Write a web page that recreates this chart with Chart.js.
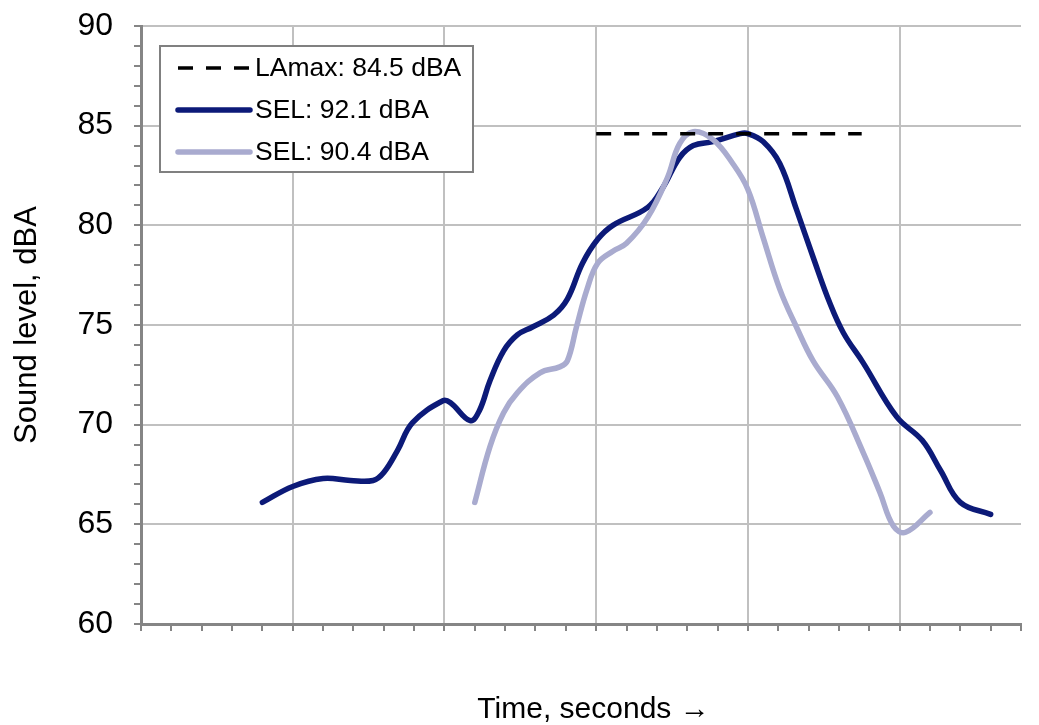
<!DOCTYPE html>
<html>
<head>
<meta charset="utf-8">
<script src="https://cdn.jsdelivr.net/npm/chart.js@4/dist/chart.umd.min.js"></script>
<style>
  html, body { margin: 0; padding: 0; background: #ffffff; }
  #wrap { width: 1039px; height: 725px; position: relative; }
</style>
</head>
<body>
<div id="wrap"><canvas id="soundChart"></canvas></div>
<script>
// Sound level vs time - two pass-bys with LAmax reference line

const lamaxTime = [15, 23.75];
const lamaxLevel = [84.6, 84.6];

const selHighTime = [4.0, 5.0, 6.0, 6.9, 7.65, 8.0, 8.45, 8.95, 9.95, 10.2, 10.85, 11.15, 11.5, 11.95,
  12.4, 12.9, 13.6, 14.05, 14.55, 15.05, 15.55, 16.7, 17.2, 17.75, 18.2, 18.85, 19.75, 20.0,
  20.5, 21.05, 21.6, 22.15, 22.7, 23.15, 23.8, 24.9, 25.75, 26.35, 27.0, 28.0];
const selHighLevel = [66.1, 66.9, 67.3, 67.2, 67.2, 67.6, 68.7, 70.1, 71.2, 71.1, 70.2, 70.7, 72.2, 73.7,
  74.5, 74.9, 75.5, 76.3, 78.1, 79.3, 80.0, 80.9, 81.9, 83.4, 84.0, 84.2, 84.6, 84.6,
  84.2, 83.1, 80.8, 78.4, 76.1, 74.6, 73.1, 70.4, 69.2, 67.7, 66.1, 65.5];

const selLowTime = [11.0, 11.5, 11.95, 12.4, 13.15, 13.8, 14.05, 14.35, 14.7, 15.05, 15.55, 16.0,
  16.7, 17.35, 17.75, 18.2, 18.85, 19.5, 20.0, 20.5, 21.05, 21.6, 22.15, 22.95, 23.8, 24.35,
  24.8, 25.2, 26.0];
const selLowLevel = [66.1, 68.9, 70.6, 71.6, 72.6, 72.9, 73.2, 74.9, 76.8, 78.1, 78.7, 79.1,
  80.4, 82.4, 84.1, 84.7, 84.3, 83.1, 81.8, 79.4, 76.8, 74.9, 73.2, 71.4, 68.6, 66.6,
  64.9, 64.6, 65.6];

const seriesLabels = ["LAmax: 84.5 dBA", "SEL: 92.1 dBA", "SEL: 90.4 dBA"];
const xTitle = "   Time, seconds \u2192";
const yTitle = "Sound level, dBA";

function toPoints(xs, ys) {
  return xs.map((x, i) => ({ x: x, y: ys[i] }));
}

const FONT = "'Liberation Sans', Arial, sans-serif";
const GRID = "#c0c0c0";
const AXIS = "#858585";

// legend drawn inside the plot, with a frame like the original
const legendBox = {
  id: "legendBox",
  afterDraw(chart) {
    const ctx = chart.ctx;
    const area = chart.chartArea;
    const left = area.left + 19;
    const top = area.top + 20;
    const width = 313;
    const height = 126;

    ctx.save();
    ctx.fillStyle = "#ffffff";
    ctx.fillRect(left, top, width, height);
    ctx.strokeStyle = "#808080";
    ctx.lineWidth = 2;
    ctx.strokeRect(left, top, width, height);

    chart.data.datasets.forEach((ds, i) => {
      const y = top + 22 + i * 42;
      ctx.beginPath();
      ctx.strokeStyle = ds.borderColor;
      ctx.lineWidth = ds.borderWidth;
      ctx.lineCap = ds.borderDash ? "butt" : "round";
      ctx.setLineDash(ds.borderDash || []);
      ctx.moveTo(left + 18, y);
      ctx.lineTo(left + 90, y);
      ctx.stroke();
      ctx.setLineDash([]);

      ctx.fillStyle = "#000000";
      ctx.font = "26.5px " + FONT;
      ctx.textBaseline = "middle";
      ctx.textAlign = "left";
      ctx.fillText(ds.label, left + 95, y + 1);
    });
    ctx.restore();
  },
};

new Chart(document.getElementById("soundChart"), {
  type: "line",
  data: {
    datasets: [
      {
        label: seriesLabels[0],
        data: toPoints(lamaxTime, lamaxLevel),
        borderColor: "#000000",
        borderWidth: 3.5,
        borderDash: [15, 13],
        tension: 0,
        pointRadius: 0,
        order: 0,
      },
      {
        label: seriesLabels[1],
        data: toPoints(selHighTime, selHighLevel),
        borderColor: "#0c1a78",
        borderWidth: 5.5,
        borderCapStyle: "round",
        tension: 0.4,
        pointRadius: 0,
        order: 2,
      },
      {
        label: seriesLabels[2],
        data: toPoints(selLowTime, selLowLevel),
        borderColor: "#a9abcf",
        borderWidth: 5.5,
        borderCapStyle: "round",
        tension: 0.4,
        pointRadius: 0,
        order: 1,
      },
    ],
  },
  plugins: [legendBox],
  options: {
    responsive: true,
    maintainAspectRatio: false,
    animation: false,
    devicePixelRatio: 1,
    layout: {
      padding: { top: 26, right: 18, bottom: 0, left: 0 },
    },
    plugins: {
      legend: { display: false },
      tooltip: { enabled: false },
    },
    scales: {
      x: {
        type: "linear",
        min: 0,
        max: 29,
        afterFit: (scale) => {
          scale.height = 101;
          scale.paddingLeft = 0;
          scale.paddingRight = 0;
        },
        border: { color: AXIS, width: 3 },
        grid: {
          color: (c) => (c.tick && c.tick.value % 5 === 0 ? GRID : "rgba(0,0,0,0)"),
          lineWidth: 2,
          tickColor: AXIS,
          tickWidth: 2,
          tickLength: 7,
          drawTicks: true,
        },
        ticks: {
          stepSize: 1,
          autoSkip: false,
          display: false,
        },
        title: {
          display: true,
          text: xTitle,
          color: "#000000",
          font: { family: FONT, size: 30, lineHeight: 1 },
          padding: { top: 0, bottom: 0 },
        },
      },
      y: {
        min: 60,
        max: 90,
        afterFit: (scale) => {
          scale.width = 141;
          scale.paddingTop = 0;
          scale.paddingBottom = 0;
        },
        border: { color: AXIS, width: 3 },
        grid: {
          color: (c) => (c.tick && c.tick.value % 5 === 0 ? GRID : "rgba(0,0,0,0)"),
          lineWidth: 2,
          tickColor: AXIS,
          tickWidth: 2,
          tickLength: 7,
          drawTicks: true,
        },
        ticks: {
          stepSize: 1,
          autoSkip: false,
          padding: 21,
          color: "#000000",
          font: { family: FONT, size: 32 },
          callback: (value) => (value % 5 === 0 ? String(value) : ""),
        },
        title: {
          display: true,
          text: yTitle,
          color: "#000000",
          font: { family: FONT, size: 31, lineHeight: 1 },
          padding: { top: 12, bottom: 0 },
        },
      },
    },
  },
});
</script>
</body>
</html>
